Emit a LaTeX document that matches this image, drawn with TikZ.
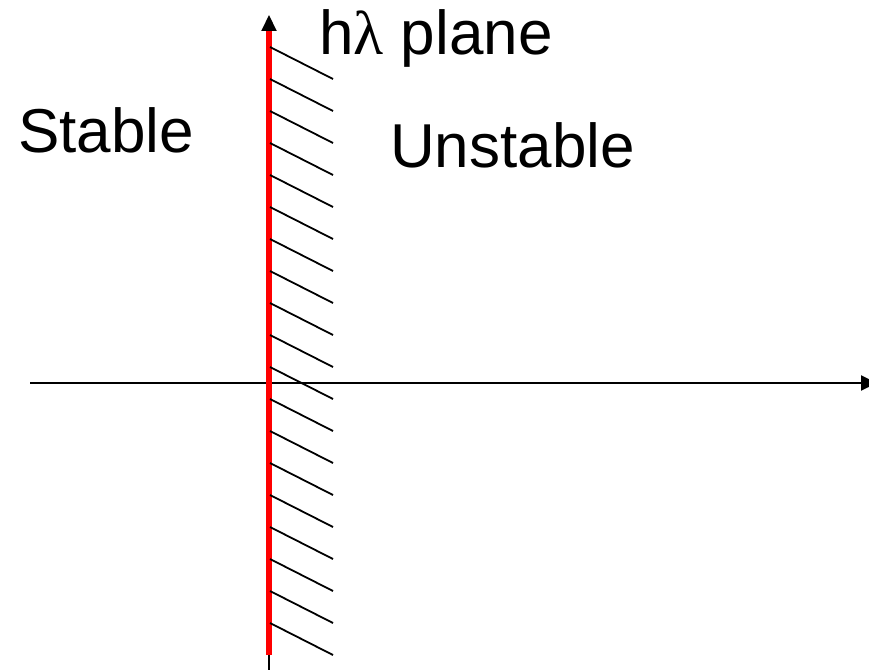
\documentclass[tikz,border=0pt]{standalone}
\usepackage{fontspec}
\setmainfont{Liberation Sans}
\newfontfamily\greekfont{Liberation Serif}
\usetikzlibrary{arrows.meta}
\begin{document}
\begin{tikzpicture}[x=1pt,y=-1pt,
  axis/.style={line width=2pt,-{Triangle[length=16pt,width=15pt]}},
  hatch/.style={line width=1.8pt},
  boundary/.style={line width=6pt,red},
  lbl/.style={inner sep=0pt,anchor=base west,font=\fontsize{62}{74}\selectfont}]
\useasboundingbox (0,0) rectangle (869,669);
\coordinate (vb) at (269,672);
\coordinate (vt) at (269,15);
\coordinate (hl) at (30,383);
\coordinate (hr) at (877,383);
\coordinate (rb) at (269,655);
\coordinate (rt) at (269,31);
\draw[axis] (vb) -- (vt);
\draw[axis] (hl) -- (hr);
\draw[boundary] (rb) -- (rt);
\foreach \i in {0,...,18}{
  \coordinate (ha\i) at (270,{47+32*\i});
  \coordinate (hb\i) at (333,{79+32*\i});
  \draw[hatch] (ha\i) -- (hb\i);
}
\node[lbl] (title) at (319,55) {h{\greekfont λ} plane};
\node[lbl] (stable) at (18,152) {Stable};
\node[lbl] (unstable) at (390,167) {Unstable};
\end{tikzpicture}
\end{document}
